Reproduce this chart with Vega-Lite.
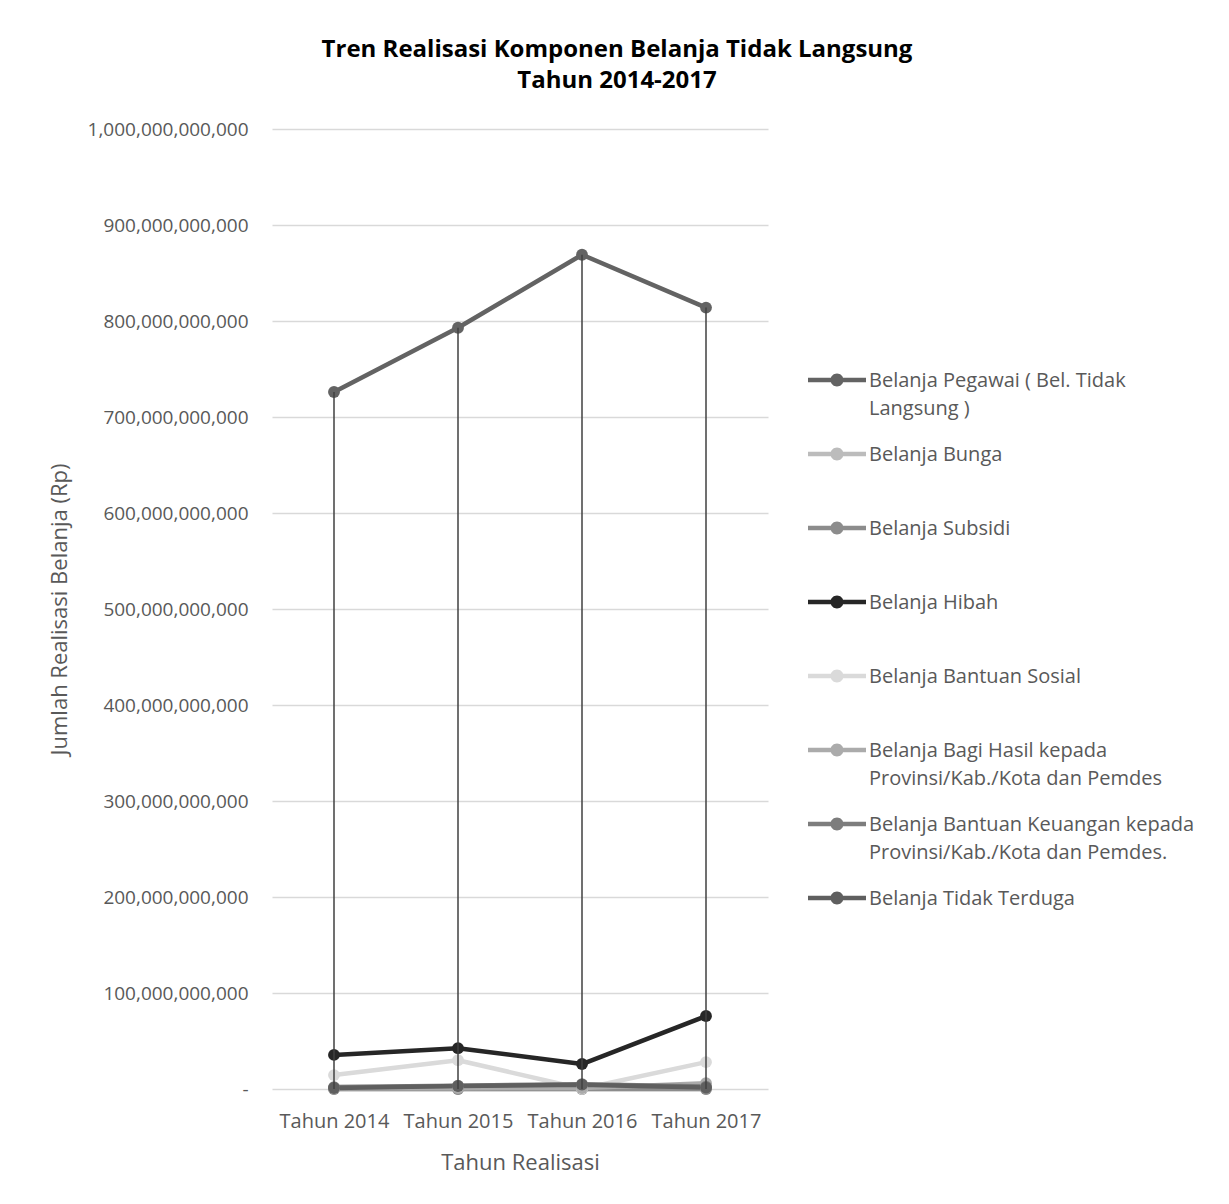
{
  "$schema": "https://vega.github.io/schema/vega-lite/v6.json",
  "autosize": "none",
  "width": 496,
  "height": 960,
  "padding": {"left": 272, "top": 129, "right": 461, "bottom": 115},
  "background": "#ffffff",
  "title": {
    "text": ["Tren Realisasi Komponen Belanja Tidak Langsung", "Tahun 2014-2017"],
    "font": "Open Sans",
    "fontSize": 24,
    "fontWeight": "bold",
    "color": "#000000",
    "lineHeight": 31,
    "anchor": "middle",
    "frame": "group",
    "dx": 97,
    "offset": 27
  },
  "data": {
    "values": [
      {"tahun": "Tahun 2014", "seri": "Belanja Pegawai ( Bel. Tidak Langsung )", "nilai": 726000000000},
      {"tahun": "Tahun 2015", "seri": "Belanja Pegawai ( Bel. Tidak Langsung )", "nilai": 793000000000},
      {"tahun": "Tahun 2016", "seri": "Belanja Pegawai ( Bel. Tidak Langsung )", "nilai": 869000000000},
      {"tahun": "Tahun 2017", "seri": "Belanja Pegawai ( Bel. Tidak Langsung )", "nilai": 814000000000},
      {"tahun": "Tahun 2014", "seri": "Belanja Bunga", "nilai": 0},
      {"tahun": "Tahun 2015", "seri": "Belanja Bunga", "nilai": 0},
      {"tahun": "Tahun 2016", "seri": "Belanja Bunga", "nilai": 0},
      {"tahun": "Tahun 2017", "seri": "Belanja Bunga", "nilai": 0},
      {"tahun": "Tahun 2014", "seri": "Belanja Subsidi", "nilai": 0},
      {"tahun": "Tahun 2015", "seri": "Belanja Subsidi", "nilai": 0},
      {"tahun": "Tahun 2016", "seri": "Belanja Subsidi", "nilai": 0},
      {"tahun": "Tahun 2017", "seri": "Belanja Subsidi", "nilai": 0},
      {"tahun": "Tahun 2014", "seri": "Belanja Hibah", "nilai": 35500000000},
      {"tahun": "Tahun 2015", "seri": "Belanja Hibah", "nilai": 42500000000},
      {"tahun": "Tahun 2016", "seri": "Belanja Hibah", "nilai": 26000000000},
      {"tahun": "Tahun 2017", "seri": "Belanja Hibah", "nilai": 76000000000},
      {"tahun": "Tahun 2014", "seri": "Belanja Bantuan Sosial", "nilai": 14500000000},
      {"tahun": "Tahun 2015", "seri": "Belanja Bantuan Sosial", "nilai": 30000000000},
      {"tahun": "Tahun 2016", "seri": "Belanja Bantuan Sosial", "nilai": 300000000},
      {"tahun": "Tahun 2017", "seri": "Belanja Bantuan Sosial", "nilai": 28000000000},
      {"tahun": "Tahun 2014", "seri": "Belanja Bagi Hasil kepada Provinsi/Kab./Kota dan Pemdes", "nilai": 800000000},
      {"tahun": "Tahun 2015", "seri": "Belanja Bagi Hasil kepada Provinsi/Kab./Kota dan Pemdes", "nilai": 900000000},
      {"tahun": "Tahun 2016", "seri": "Belanja Bagi Hasil kepada Provinsi/Kab./Kota dan Pemdes", "nilai": 1000000000},
      {"tahun": "Tahun 2017", "seri": "Belanja Bagi Hasil kepada Provinsi/Kab./Kota dan Pemdes", "nilai": 6000000000},
      {"tahun": "Tahun 2014", "seri": "Belanja Bantuan Keuangan kepada Provinsi/Kab./Kota dan Pemdes.", "nilai": 2000000000},
      {"tahun": "Tahun 2015", "seri": "Belanja Bantuan Keuangan kepada Provinsi/Kab./Kota dan Pemdes.", "nilai": 3500000000},
      {"tahun": "Tahun 2016", "seri": "Belanja Bantuan Keuangan kepada Provinsi/Kab./Kota dan Pemdes.", "nilai": 5000000000},
      {"tahun": "Tahun 2017", "seri": "Belanja Bantuan Keuangan kepada Provinsi/Kab./Kota dan Pemdes.", "nilai": 2500000000},
      {"tahun": "Tahun 2014", "seri": "Belanja Tidak Terduga", "nilai": 1000000000},
      {"tahun": "Tahun 2015", "seri": "Belanja Tidak Terduga", "nilai": 3000000000},
      {"tahun": "Tahun 2016", "seri": "Belanja Tidak Terduga", "nilai": 4500000000},
      {"tahun": "Tahun 2017", "seri": "Belanja Tidak Terduga", "nilai": 1500000000}
    ]
  },
  "encoding": {
    "x": {
      "field": "tahun",
      "type": "nominal",
      "sort": null,
      "scale": {"type": "point", "padding": 0.5},
      "axis": {
        "title": "Tahun Realisasi",
        "labelAngle": 0,
        "labelFont": "Open Sans",
        "labelFontSize": 20,
        "labelColor": "#595959",
        "labelPadding": 22,
        "titleFont": "Open Sans",
        "titleFontSize": 22,
        "titleFontWeight": "normal",
        "titleColor": "#595959",
        "titlePadding": 21,
        "ticks": false,
        "domain": false,
        "grid": false
      }
    },
    "y": {
      "field": "nilai",
      "type": "quantitative",
      "scale": {"domain": [0, 1000000000000], "nice": false},
      "axis": {
        "title": "Jumlah Realisasi Belanja (Rp)",
        "values": [0, 100000000000, 200000000000, 300000000000, 400000000000, 500000000000, 600000000000, 700000000000, 800000000000, 900000000000, 1000000000000],
        "labelExpr": "datum.value == 0 ? '-' : format(datum.value, ',.0f')",
        "labelFont": "Open Sans",
        "labelFontSize": 19,
        "labelColor": "#595959",
        "labelPadding": 24,
        "titleFont": "Open Sans",
        "titleFontSize": 22,
        "titleFontWeight": "normal",
        "titleColor": "#595959",
        "titlePadding": 16,
        "ticks": false,
        "domain": false,
        "grid": true,
        "gridColor": "#d9d9d9",
        "gridWidth": 1.5
      }
    },
    "color": {
      "field": "seri",
      "type": "nominal",
      "scale": {
        "domain": [
          "Belanja Pegawai ( Bel. Tidak Langsung )",
          "Belanja Bunga",
          "Belanja Subsidi",
          "Belanja Hibah",
          "Belanja Bantuan Sosial",
          "Belanja Bagi Hasil kepada Provinsi/Kab./Kota dan Pemdes",
          "Belanja Bantuan Keuangan kepada Provinsi/Kab./Kota dan Pemdes.",
          "Belanja Tidak Terduga"
        ],
        "range": ["#636363", "#bcbcbc", "#8c8c8c", "#262626", "#dadada", "#ababab", "#7d7d7d", "#5f5f5f"]
      },
      "legend": {
        "orient": "none",
        "legendX": 536,
        "legendY": 222,
        "title": null,
        "symbolType": "M0,-1M0,1.4M-1,-0.078H1V0.078H-1Z M-0.224,0A0.224,0.224,0,1,1,0.224,0A0.224,0.224,0,1,1,-0.224,0Z",
        "symbolSize": 3364,
        "symbolStrokeWidth": 0,
        "labelFont": "Open Sans",
        "labelFontSize": 20,
        "labelColor": "#595959",
        "labelLimit": 400,
        "labelOffset": 3,
        "labelBaseline": "alphabetic",
        "rowPadding": 4,
        "labelExpr": "datum.label == 'Belanja Pegawai ( Bel. Tidak Langsung )' ? ['Belanja Pegawai ( Bel. Tidak', 'Langsung )'] : datum.label == 'Belanja Bagi Hasil kepada Provinsi/Kab./Kota dan Pemdes' ? ['Belanja Bagi Hasil kepada', 'Provinsi/Kab./Kota dan Pemdes'] : datum.label == 'Belanja Bantuan Keuangan kepada Provinsi/Kab./Kota dan Pemdes.' ? ['Belanja Bantuan Keuangan kepada', 'Provinsi/Kab./Kota dan Pemdes.'] : datum.label",
        "encode": {
          "symbols": {
            "update": {
              "fill": {"scale": "color", "field": "value"},
              "stroke": {"value": "transparent"},
              "opacity": {"value": 1}
            }
          },
          "labels": {
            "update": {"dy": {"value": 7}, "lineHeight": {"value": 28}}
          }
        }
      }
    }
  },
  "layer": [
    {
      "mark": {"type": "line", "strokeWidth": 4.5, "strokeCap": "round", "strokeJoin": "round"}
    },
    {
      "mark": {"type": "point", "filled": true, "size": 140, "opacity": 1}
    },
    {
      "transform": [{"filter": "datum.seri == 'Belanja Pegawai ( Bel. Tidak Langsung )'"}],
      "mark": {"type": "rule", "color": "#404040", "strokeWidth": 1.5},
      "encoding": {
        "y2": {"datum": 0},
        "color": {"value": "#404040"}
      }
    }
  ],
  "config": {
    "view": {"stroke": null}
  }
}
